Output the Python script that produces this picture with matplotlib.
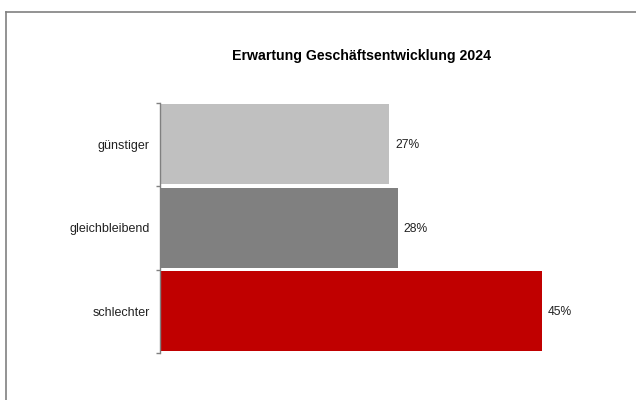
import matplotlib
matplotlib.use("Agg")
import matplotlib.pyplot as plt
from matplotlib.lines import Line2D
from matplotlib.ticker import FixedLocator

categories = ["günstiger", "gleichbleibend", "schlechter"]
values = [27, 28, 45]
labels = ["27%", "28%", "45%"]
colors = ["#C0C0C0", "#808080", "#C00000"]
title = "Erwartung Geschäftsentwicklung 2024"

plt.rcParams['font.family'] = ['Liberation Sans', 'DejaVu Sans']

W, H = 636, 400
fig = plt.figure(figsize=(W / 100, H / 100), dpi=100)

# outer border (top and left visible)
fig.add_artist(Line2D([6 / W, 6 / W], [0, 1 - 12 / H], transform=fig.transFigure,
                      color="#808080", lw=1.2))
fig.add_artist(Line2D([6 / W, 1], [1 - 12 / H, 1 - 12 / H], transform=fig.transFigure,
                      color="#808080", lw=1.2))

ax_left, ax_right = 160, 160 + 8.49 * 50
ax_top, ax_bot = 102.7, 353
ax = fig.add_axes([ax_left / W, 1 - ax_bot / H, (ax_right - ax_left) / W, (ax_bot - ax_top) / H])

ypos = list(range(len(categories)))
ax.barh(ypos, values, height=0.96, color=colors)
ax.set_xlim(0, 50)
ax.set_ylim(len(categories) - 0.5, -0.5)

for y, v, lab in zip(ypos, values, labels):
    ax.text(v + 0.7, y + 0.01, lab, va="center", ha="left", fontsize=8.7, color="#222222")

for s in ["top", "right", "bottom"]:
    ax.spines[s].set_visible(False)
ax.spines["left"].set_color("#808080")
ax.spines["left"].set_linewidth(1.0)
ax.xaxis.set_visible(False)

ax.yaxis.set_major_locator(FixedLocator([i - 0.5 for i in range(len(categories) + 1)]))
ax.yaxis.set_minor_locator(FixedLocator(ypos))
ax.set_yticklabels([], minor=False)
ax.set_yticklabels(categories, minor=True)
ax.tick_params(axis="y", which="major", length=3, color="#808080", width=1.0)
ax.tick_params(axis="y", which="minor", length=0, pad=7.2, labelsize=9, labelcolor="#222222")

fig.text(362 / W, 1 - 56 / H, title, ha="center", va="center", fontsize=10.2, fontweight="bold")

fig.savefig("out.png", dpi=100)
